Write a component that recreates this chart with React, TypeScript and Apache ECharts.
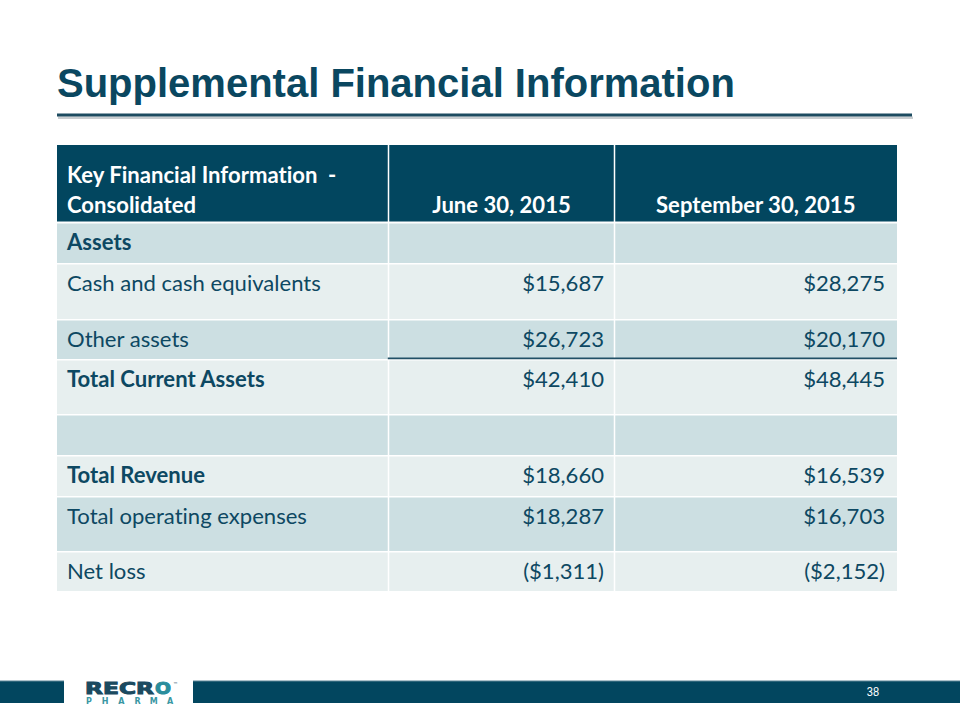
import React, { useEffect, useRef } from "react";
import * as echarts from "echarts";

const title = "Supplemental Financial Information";
const headerCol1 = ["Key Financial Information  -", "Consolidated"];
const periods = ["June 30, 2015", "September 30, 2015"];
const rowLabels = [
  "Assets",
  "Cash and cash equivalents",
  "Other assets",
  "Total Current Assets",
  "",
  "Total Revenue",
  "Total operating expenses",
  "Net loss",
];
const boldRows = [true, false, false, true, false, true, false, false];
const june2015: (number | null)[] = [null, 15687, 26723, 42410, null, 18660, 18287, -1311];
const sept2015: (number | null)[] = [null, 28275, 20170, 48445, null, 16539, 16703, -2152];
const pageNumber = "38";

const fmt = (v: number | null) => {
  if (v === null) return "";
  const s = "$" + Math.abs(v).toLocaleString("en-US");
  return v < 0 ? "(" + s + ")" : s;
};

const DARK = "#02465F";
const BAND_DARK = "#CCDFE2";
const BAND_LIGHT = "#E7EFEF";
const TEXT = "#0D4862";
const FONT = "Lato";

function measure(text: string, font: string) {
  const c = document.createElement("canvas").getContext("2d")!;
  c.font = font;
  return c.measureText(text).width;
}

export default function App() {
  const ref = useRef<HTMLDivElement>(null);
  useEffect(() => {
    document.body.style.margin = "0";
    const chart = echarts.init(ref.current!, null, { renderer: "svg" });
    const fs = 22;
    const k = 254 / measure("Cash and cash equivalents", `${fs}px ${FONT}`);
    const kb = 200 / measure("September 30, 2015", `bold ${fs}px ${FONT}`);

    const colBounds = [57, 388.5, 614.5, 897];
    const rowBounds = [145, 222, 263, 319, 359, 414, 455, 496, 551, 591];
    const els: any[] = [];

    const txt = (
      text: string,
      x: number,
      y: number,
      opts: {
        align?: string;
        bold?: boolean;
        fill?: string;
        size?: number;
        family?: string;
        sx?: number;
        stroke?: string;
        lw?: number;
      } = {}
    ) => {
      const align = opts.align || "left";
      const style: any = {
        text,
        fill: opts.fill || TEXT,
        fontSize: opts.size || fs,
        fontFamily: opts.family || FONT,
        fontWeight: opts.bold ? "bold" : "normal",
        align,
        textAlign: align,
        verticalAlign: "middle",
        textVerticalAlign: "middle",
      };
      if (opts.stroke) {
        style.stroke = opts.stroke;
        style.lineWidth = opts.lw || 0.5;
      }
      return {
        type: "text",
        x,
        y,
        scaleX: opts.sx ?? (opts.bold ? kb : k),
        style,
      };
    };

    // Title
    const titleW = measure(title, "bold 40px 'Liberation Sans'");
    els.push(
      txt(title, 57, 83, { bold: true, fill: "#0A4760", size: 40, family: "Liberation Sans", sx: 678 / titleW })
    );
    // Title rule with shadow
    els.push({ type: "rect", shape: { x: 58, y: 116.5, width: 855, height: 2.5 }, style: { fill: "#C9CDD0" } });
    els.push({ type: "rect", shape: { x: 57, y: 113.5, width: 855, height: 3 }, style: { fill: "#1D4B60" } });

    // Header
    els.push({
      type: "rect",
      shape: { x: colBounds[0], y: rowBounds[0], width: colBounds[3] - colBounds[0], height: rowBounds[1] - rowBounds[0] - 0.5 },
      style: { fill: DARK },
    });
    // Body rows
    for (let i = 0; i < rowLabels.length; i++) {
      const y0 = rowBounds[i + 1] + 1.5;
      const y1 = rowBounds[i + 2];
      els.push({
        type: "rect",
        shape: { x: colBounds[0], y: y0, width: colBounds[3] - colBounds[0], height: y1 - y0 },
        style: { fill: i % 2 === 0 ? BAND_DARK : BAND_LIGHT },
      });
    }
    // Column separators
    [colBounds[1], colBounds[2]].forEach((x) =>
      els.push({
        type: "rect",
        shape: { x: x - 0.75, y: rowBounds[0], width: 1.5, height: rowBounds[rowBounds.length - 1] - rowBounds[0] },
        style: { fill: "#FFFFFF" },
      })
    );
    // Rule between "Other assets" and "Total Current Assets" (value columns)
    els.push({
      type: "rect",
      shape: { x: colBounds[1] - 0.75, y: rowBounds[4] - 1.5, width: colBounds[3] - colBounds[1] + 0.75, height: 1.8 },
      style: { fill: "#215066" },
    });

    // Header texts
    els.push(txt(headerCol1[0], 67, 175, { bold: true, fill: "#FFFFFF" }));
    els.push(txt(headerCol1[1], 67, 205, { bold: true, fill: "#FFFFFF" }));
    els.push(txt(periods[0], (colBounds[1] + colBounds[2]) / 2, 205, { bold: true, fill: "#FFFFFF", align: "center" }));
    els.push(txt(periods[1], (colBounds[2] + colBounds[3]) / 2, 205, { bold: true, fill: "#FFFFFF", align: "center" }));

    // Body texts
    for (let i = 0; i < rowLabels.length; i++) {
      const yc = rowBounds[i + 1] + 20;
      if (rowLabels[i]) els.push(txt(rowLabels[i], 67, yc, { bold: boldRows[i] }));
      const a = fmt(june2015[i]);
      const b = fmt(sept2015[i]);
      if (a) els.push(txt(a, colBounds[2] - 10.5, yc, { align: "right" }));
      if (b) els.push(txt(b, colBounds[3] - 12, yc, { align: "right" }));
    }

    // Footer bar
    els.push({ type: "rect", shape: { x: 0, y: 681, width: 64, height: 22 }, style: { fill: DARK } });
    els.push({ type: "rect", shape: { x: 193, y: 681, width: 767, height: 22 }, style: { fill: DARK } });
    els.push({ type: "rect", shape: { x: 0, y: 680.5, width: 64, height: 1 }, style: { fill: "#5B8396" } });
    els.push({ type: "rect", shape: { x: 193, y: 680.5, width: 767, height: 1 }, style: { fill: "#5B8396" } });
    els.push(txt(pageNumber, 873, 692, { fill: "#FFFFFF", size: 13, family: "Liberation Sans", align: "center", sx: 0.85 }));

    // Logo
    const recrW = measure("RECR", "bold 15px 'DejaVu Sans'");
    els.push(
      txt("RECR", 85, 689, { bold: true, fill: "#1B4A60", size: 15, family: "DejaVu Sans", sx: 69 / recrW, stroke: "#1B4A60", lw: 0.9 })
    );
    const oW = measure("O", "bold 15px 'DejaVu Sans'");
    els.push(
      txt("O", 155, 689, { bold: true, fill: "#2A8D9C", size: 15, family: "DejaVu Sans", sx: 16 / oW, stroke: "#2A8D9C", lw: 0.9 })
    );
    els.push(txt("™", 173, 684, { fill: "#1B4A60", size: 5, family: "DejaVu Sans", sx: 1 }));
    "PHARMA".split("").forEach((ch, j) =>
      els.push(
        txt(ch, 89 + j * 16.2, 701, { bold: true, fill: "#3A97A3", size: 8, family: "DejaVu Sans", align: "center", sx: 1 })
      )
    );

    chart.setOption({
      animation: false,
      backgroundColor: "#FFFFFF",
      graphic: { elements: els },
    });
    return () => chart.dispose();
  }, []);
  return (
    <div
      ref={ref}
      style={{
        position: "absolute",
        left: 0,
        top: 0,
        width: 960,
        height: 720,
        fontVariantLigatures: "none",
        fontFeatureSettings: '"liga" 0, "clig" 0',
      }}
    />
  );
}
